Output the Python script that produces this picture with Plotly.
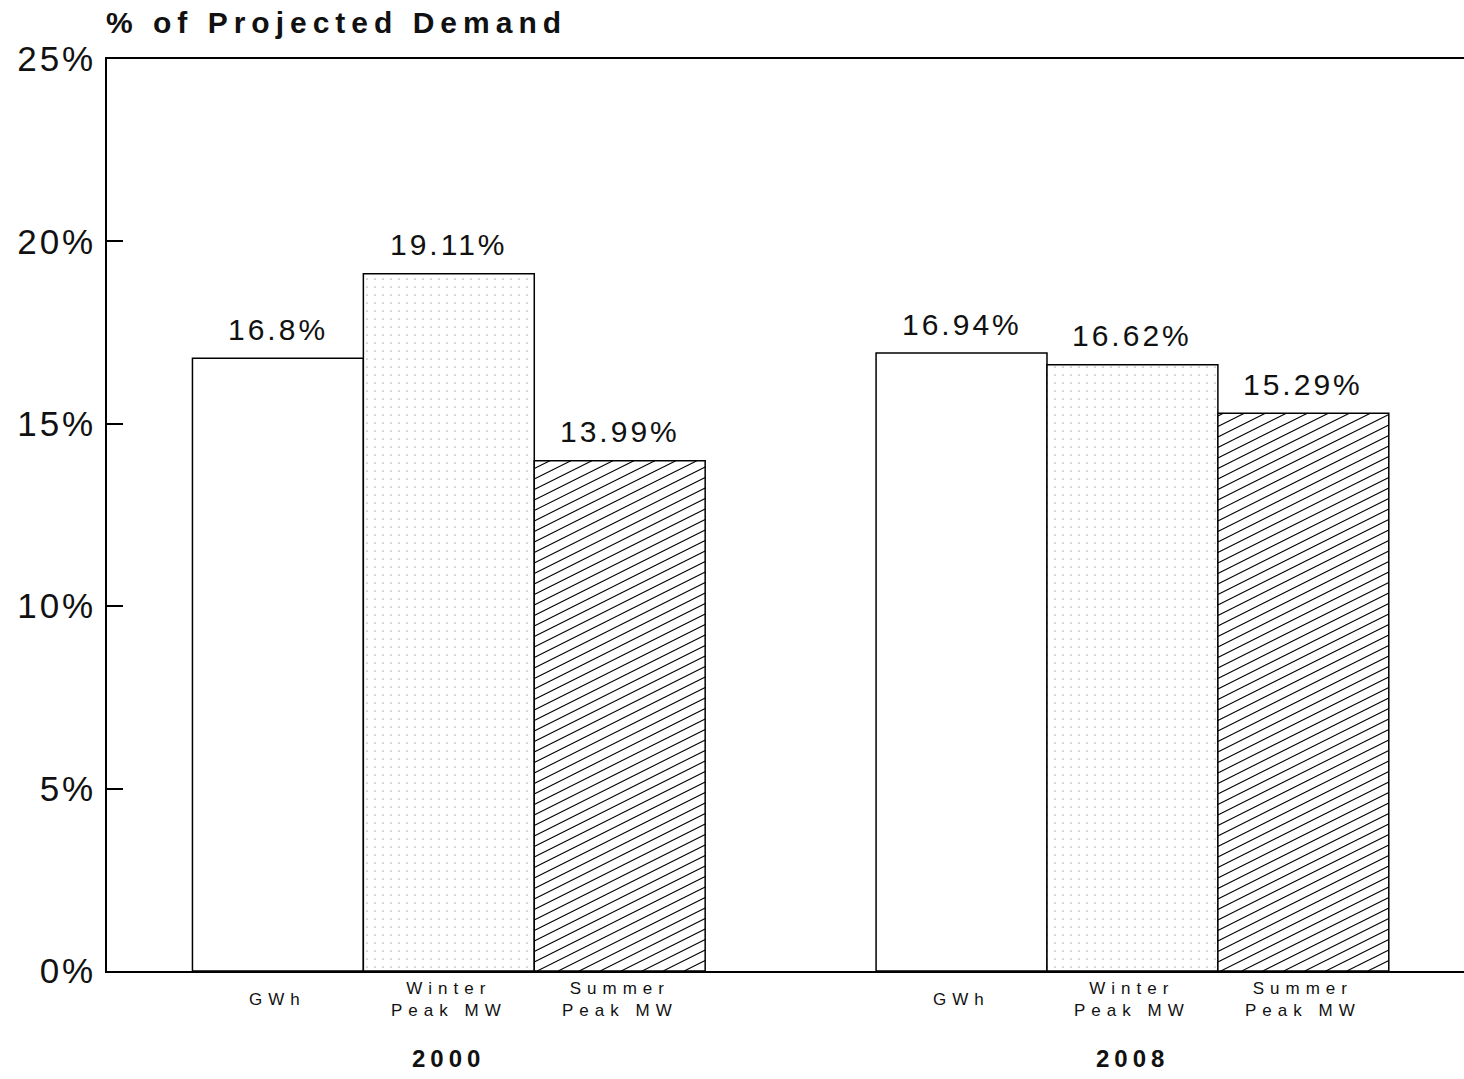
import plotly.graph_objects as go

# ---- data -------------------------------------------------------------
years = ["2000", "2008"]
series_names = ["GWh", "Winter<br>Peak MW", "Summer<br>Peak MW"]
gwh_pct = [16.8, 16.94]
winter_peak_pct = [19.11, 16.62]
summer_peak_pct = [13.99, 15.29]
y_ticks = [0, 5, 10, 15, 20, 25]
y_tick_labels = ["0%", "5%", "10%", "15%", "20%", "25%"]

# ---- layout helpers -----------------------------------------------------
FONT = "Liberation Sans, Arial, sans-serif"
group_slots = 4          # three bars + one empty slot between the two years
bar_width = 1.0


def spaced(text, px):
    """Wrap text in a span with CSS letter spacing."""
    return f'<span style="letter-spacing:{px}px">{text}</span>'


def positions(series_index):
    return [g * group_slots + series_index for g in range(len(years))]


all_series = [gwh_pct, winter_peak_pct, summer_peak_pct]

fig = go.Figure()

# GWh bars: plain white
fig.add_trace(go.Bar(
    x=positions(0), y=gwh_pct, width=bar_width,
    marker=dict(color="white", line=dict(color="black", width=1.5)),
    hoverinfo="skip", showlegend=False,
))

# Winter peak bars: fine dot stipple
fig.add_trace(go.Bar(
    x=positions(1), y=winter_peak_pct, width=bar_width,
    marker=dict(
        color="white",
        line=dict(color="black", width=1.5),
        pattern=dict(shape=".", fgcolor="#666666", bgcolor="white",
                     size=8, solidity=0.035, fillmode="overlay"),
    ),
    hoverinfo="skip", showlegend=False,
))

# Summer peak bars: white, hatching drawn on top
fig.add_trace(go.Bar(
    x=positions(2), y=summer_peak_pct, width=bar_width,
    marker=dict(color="white", line=dict(color="black", width=1.5)),
    hoverinfo="skip", showlegend=False,
))

# Shallow diagonal hatching clipped to each summer bar
y_min, y_max = 0, 25
x_min, x_max = -1.0, 6.94
plot_w_px, plot_h_px = 1464 - 107, 1079 - 59 - 108
x_per_px = (x_max - x_min) / plot_w_px
y_per_px = (y_max - y_min) / plot_h_px
slope = 0.5 * y_per_px / x_per_px        # rise of 1 px per 2 px of run
step = 10.5 * y_per_px                   # vertical spacing between lines

hx, hy = [], []
for xc, h in zip(positions(2), summer_peak_pct):
    xl = xc - bar_width / 2
    c = -slope * bar_width
    while c < h:
        t0 = max(0.0, (0 - c) / slope)
        t1 = min(bar_width, (h - c) / slope)
        if t1 > t0:
            hx += [xl + t0, xl + t1, None]
            hy += [c + slope * t0, c + slope * t1, None]
        c += step
fig.add_trace(go.Scatter(
    x=hx, y=hy, mode="lines", line=dict(color="black", width=1.1),
    hoverinfo="skip", showlegend=False,
))

annotations = []

# value labels above bars
for s_idx, values in enumerate(all_series):
    for xp, v in zip(positions(s_idx), values):
        annotations.append(dict(
            x=xp, y=v, xref="x", yref="y", yanchor="middle", yshift=29,
            text=spaced(f"{v:g}%", 3), showarrow=False,
            font=dict(family=FONT, size=30, color="#111111"),
        ))

# category labels under each bar
for s_idx, name in enumerate(series_names):
    for xp in positions(s_idx):
        annotations.append(dict(
            x=xp, y=0, xref="x", yref="y", yanchor="middle", yshift=-28,
            text="<br>".join(spaced(part, 6) for part in name.split("<br>")),
            showarrow=False, align="center",
            font=dict(family=FONT, size=17, color="#111111"),
        ))

# year labels under each group
for g, yr in enumerate(years):
    annotations.append(dict(
        x=g * group_slots + 1, y=0, xref="x", yref="y", yanchor="middle", yshift=-87,
        text=f"<b>{spaced(yr, 5)}</b>", showarrow=False,
        font=dict(family=FONT, size=24, color="#111111"),
    ))

fig.update_layout(
    width=1464, height=1079,
    margin=dict(l=107, r=0, t=59, b=108),
    paper_bgcolor="white", plot_bgcolor="white",
    barmode="overlay",
    title=dict(
        text=f"<b>{spaced('% of Projected Demand', 6)}</b>",
        x=106 / 1464, xref="container", xanchor="left",
        y=1 - 22 / 1079, yref="container", yanchor="middle",
        font=dict(family=FONT, size=30, color="#111111"),
    ),
    annotations=annotations,
    xaxis=dict(
        range=[x_min, x_max], showticklabels=False, showgrid=False,
        zeroline=False, showline=True, linecolor="black", linewidth=1.5,
        mirror=True, ticks="",
    ),
    yaxis=dict(
        range=[y_min, y_max], tickvals=y_ticks,
        ticktext=[spaced(t, 3) for t in y_tick_labels],
        ticks="inside", ticklen=16, tickwidth=1.5, tickcolor="black",
        showline=True, linecolor="black", linewidth=1.5,
        showgrid=False, zeroline=False, ticklabelstandoff=2,
        tickfont=dict(family=FONT, size=35, color="#111111"),
    ),
)

fig.write_html("out.html")
